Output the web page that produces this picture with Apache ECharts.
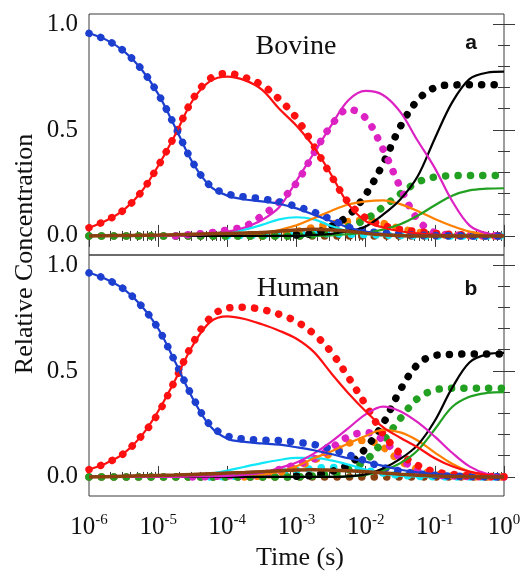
<!DOCTYPE html>
<html>
<head>
<meta charset="utf-8">
<script src="https://cdn.jsdelivr.net/npm/echarts@6/dist/echarts.min.js"></script>
<style>html,body{margin:0;padding:0;background:#fff;}#c{width:528px;height:573px;}</style>
</head>
<body>
<div id="c"></div>
<script>
// time axis: log10 of time in seconds
const logTime = [-6,-5.75,-5.5,-5.25,-5,-4.75,-4.5,-4.25,-4,-3.75,-3.5,-3.25,-3,-2.75,-2.5,-2.25,-2,-1.75,-1.5,-1.25,-1,-0.75,-0.5,-0.25,0];
const xDecades = [-6,-5,-4,-3,-2,-1,0];
const xMinorFactors = [2,3,4,5,6,7,8,9];
const yMajorTicks = [0, 0.5, 1.0];
const yMinorTicks = [0.1,0.2,0.3,0.4,0.6,0.7,0.8,0.9];
const panelNames = ['Bovine','Human'];
const panelLetters = ['a','b'];
const _ = null; // not plotted (hidden under other dots)

// Bovine (panel a)
const bovBlueLine   = [0.956,0.925,0.873,0.79,0.67,0.51,0.345,0.235,0.19,0.172,0.163,0.152,0.13,0.10,0.07,0.04,0.02,0.01,0.004,0.002,0.001,0,0,0,0];
const bovBlueDots   = [0.956,0.925,0.873,0.79,0.67,0.512,0.347,0.237,0.198,0.184,0.175,0.161,0.139,0.113,0.078,0.042,0.022,0.014,0.008,0.004,0.002,0.001,0,0,0];
const bovRedLine    = [0.039,0.073,0.122,0.205,0.33,0.48,0.64,0.73,0.752,0.735,0.69,0.60,0.52,0.42,0.29,0.15,0.07,0.04,0.022,0.012,0.006,0.003,0.001,0,0];
const bovRedDots    = [0.039,0.073,0.122,0.205,0.33,0.48,0.645,0.742,0.767,0.748,0.712,0.645,0.556,0.425,0.285,0.158,0.085,0.05,0.03,0.02,0.012,0.007,0.004,0.002,0.001];
const bovMagLine    = [0,0,0,0,0,0,0.004,0.01,0.02,0.04,0.075,0.135,0.26,0.39,0.52,0.64,0.684,0.665,0.585,0.45,0.32,0.165,0.05,0.012,0.003];
const bovMagDots    = [_,_,_,_,_,0,0.008,0.015,0.028,0.045,0.095,0.16,0.25,0.39,0.52,0.598,0.556,0.41,0.23,0.078,0.015,0.005,0.002,0.001,0];
const bovBlackLine  = [0,0,0,0,0,0,0,0,0,0,0,0,0,0.005,0.01,0.022,0.045,0.1,0.172,0.28,0.46,0.63,0.74,0.77,0.775];
const bovBlackDots  = [_,_,_,_,_,_,_,_,_,_,_,_,0.004,0.012,0.045,0.096,0.195,0.34,0.515,0.64,0.70,0.712,0.713,0.713,0.713];
const bovGreenLine  = [0,0,0,0,0,0,0,0,0,0,0,0,0,0,0.003,0.008,0.015,0.03,0.055,0.095,0.145,0.19,0.215,0.223,0.225];
const bovGreenDots  = [0,0,0,0,0,0,0,0,0,0,0,0,0,0.005,0.02,0.043,0.078,0.136,0.198,0.253,0.278,0.284,0.285,0.285,0.285];
const bovOrangeLine = [0,0,0,0,0,0,0,0,0,0.003,0.01,0.028,0.05,0.083,0.118,0.148,0.163,0.168,0.15,0.118,0.08,0.047,0.02,0.006,0.001];
const bovOrangeDots = [_,_,_,_,_,_,_,_,_,_,0,0.005,0.02,0.04,0.055,0.068,0.075,0.06,0.035,0.018,0.008,0.003,0.001,0,0];
const bovCyanLine   = [0,0,0,0,0,0.001,0.004,0.009,0.016,0.03,0.052,0.078,0.088,0.078,0.047,0.022,0.01,0.003,0.001,0,0,0,0,0,0];
const bovCyanDots   = [_,_,_,_,_,_,_,_,0,0.002,0.004,0.006,0.008,0.01,0.01,0.008,0.006,0.004,0.002,0.001,0,0,0,0,0];
const bovBrownLine  = [0,0.001,0.002,0.003,0.004,0.006,0.008,0.01,0.012,0.014,0.016,0.022,0.028,0.031,0.028,0.022,0.012,0.005,0.002,0,0,0,0,0,0];
const bovBrownDots  = [0,0,0,0,0,0,0,0,0,0,0,0,0,0,0,0,0,0,0,0,0,0,0,0,0];

// Human (panel b)
const humBlueLine   = [0.963,0.933,0.887,0.81,0.70,0.54,0.37,0.24,0.18,0.165,0.158,0.152,0.14,0.126,0.108,0.088,0.072,0.052,0.034,0.022,0.014,0.008,0.004,0.002,0.001];
const humBlueDots   = [0.963,0.933,0.887,0.81,0.70,0.54,0.375,0.245,0.193,0.178,0.174,0.172,0.163,0.153,0.132,0.105,0.075,0.045,0.028,0.015,0.008,0.004,0.002,0.001,0];
const humRedLine    = [0.035,0.065,0.11,0.19,0.31,0.46,0.62,0.73,0.757,0.745,0.72,0.69,0.652,0.59,0.49,0.395,0.31,0.235,0.185,0.14,0.088,0.05,0.025,0.01,0.004];
const humRedDots    = [0.035,0.065,0.11,0.19,0.30,0.46,0.63,0.75,0.797,0.80,0.79,0.767,0.733,0.675,0.59,0.47,0.34,0.205,0.11,0.055,0.025,0.012,0.006,0.003,0.001];
const humMagLine    = [0,0,0,0,0,0,0.002,0.003,0.005,0.01,0.02,0.042,0.068,0.11,0.165,0.23,0.295,0.332,0.31,0.258,0.19,0.114,0.05,0.015,0.004];
const humMagDots    = [_,_,_,_,_,_,0,0.002,0.005,0.008,0.012,0.035,0.058,0.085,0.135,0.19,0.21,0.175,0.09,0.03,0.01,0.005,0.002,0.001,0];
const humBlackLine  = [0,0,0,0,0,0,0,0,0,0,0,0,0,0,0,0.003,0.012,0.04,0.085,0.15,0.265,0.42,0.54,0.578,0.585];
const humBlackDots  = [_,_,_,_,_,_,_,_,_,_,_,_,0.003,0.008,0.025,0.057,0.135,0.25,0.41,0.53,0.573,0.578,0.58,0.58,0.58];
const humGreenLine  = [0,0,0,0,0,0,0,0,0,0,0,0,0,0,0,0.003,0.01,0.03,0.065,0.125,0.225,0.33,0.378,0.396,0.4];
const humGreenDots  = [0,0,0,0,0,0,0,0,0,0,0,0,0,0.005,0.015,0.035,0.077,0.168,0.275,0.37,0.41,0.418,0.418,0.418,0.418];
const humOrangeLine = [0,0,0,0,0,0,0,0,0,0.003,0.01,0.025,0.05,0.088,0.12,0.158,0.193,0.222,0.21,0.172,0.115,0.062,0.025,0.008,0.002];
const humOrangeDots = [_,_,_,_,_,_,_,_,_,0,0.005,0.02,0.045,0.08,0.11,0.158,0.172,0.14,0.075,0.035,0.015,0.006,0.002,0,0];
const humCyanLine   = [0,0,0,0,0,0.003,0.008,0.015,0.03,0.048,0.065,0.08,0.09,0.09,0.078,0.058,0.035,0.015,0.006,0.002,0,0,0,0,0];
const humCyanDots   = [_,_,_,_,_,_,_,0,0.002,0.005,0.01,0.02,0.03,0.04,0.045,0.04,0.03,0.018,0.008,0.003,0.001,0,0,0,0];
const humBrownLine  = [0,0.001,0.003,0.005,0.007,0.009,0.012,0.015,0.018,0.021,0.025,0.029,0.033,0.034,0.032,0.029,0.025,0.019,0.013,0.008,0.004,0.002,0.001,0,0];
const humBrownDots  = [0,0,0,0,0,0,0,0,0,0,0,0,0,0,0,0,0,0,0,0,0,0,0,0,0];

const C = {blue:'#1c3fd0', red:'#ff1010', magenta:'#dd22c4', black:'#000000', green:'#22a022', orange:'#ff8000', cyan:'#10e8f8', brown:'#8b4010'};

const SERIF = '"Liberation Serif","Times New Roman",serif';
const SANS = '"Liberation Sans",Arial,sans-serif';
const FRAME = '#3a3a3a';

const xMinorTicks = [];
xDecades.slice(0, -1).forEach(d => xMinorFactors.forEach(k => xMinorTicks.push(d + Math.log10(k))));

function pairs(ys){ return logTime.map((x, i) => [x, ys[i] === null ? '-' : ys[i]]); }

function xAxisDef(grid, pos, major, labels){
  return {
    type:'value', gridIndex:grid, position:pos, min:-6, max:0,
    axisLine:{show:false},
    splitLine:{show:false},
    axisTick:{show:true, inside:true, length: major ? 11 : 5, customValues: major ? xDecades : xMinorTicks,
      lineStyle:{color:FRAME, width:1}},
    axisLabel: labels ? {
      show:true, customValues:xDecades, margin:17,
      formatter: v => '{b|10}{s|' + Math.round(v) + '}',
      rich:{ b:{fontFamily:SERIF, fontSize:25, color:'#111'}, s:{fontFamily:SERIF, fontSize:15, color:'#111', padding:[0,0,13,0]} }
    } : {show:false}
  };
}
function yAxisDef(grid, pos, major, labels){
  return {
    type:'value', gridIndex:grid, position:pos, min:-0.09, max:1.047,
    axisLine:{show:false},
    splitLine:{show:false},
    axisTick:{show:true, inside:true, length: major ? 11 : 6, customValues: major ? yMajorTicks : yMinorTicks,
      lineStyle:{color:FRAME, width:1}},
    axisLabel: labels ? {
      show:true, customValues:yMajorTicks, margin:11,
      formatter: v => v.toFixed(1),
      fontFamily:SERIF, fontSize:25, color:'#111'
    } : {show:false}
  };
}

function dotSeries(ys, color, xi, yi){
  return {type:'line', xAxisIndex:xi, yAxisIndex:yi, data:pairs(ys), smooth:0.35,
    showSymbol:false, symbol:'none', silent:true, z:2,
    lineStyle:{color, width:7.5, type:[0.1, 12.3], cap:'round'}};
}
function lineSeries(ys, color, xi, yi, w){
  return {type:'line', xAxisIndex:xi, yAxisIndex:yi, data:pairs(ys), smooth:0.35,
    showSymbol:false, symbol:'none', silent:true, z:3,
    lineStyle:{color, width:w || 2.2}};
}

function panelSeries(d, xi, yi){
  return [
    dotSeries(d.brownDots, C.brown, xi, yi),
    dotSeries(d.cyanDots, C.cyan, xi, yi),
    dotSeries(d.orangeDots, C.orange, xi, yi),
    dotSeries(d.greenDots, C.green, xi, yi),
    dotSeries(d.blackDots, C.black, xi, yi),
    dotSeries(d.magDots, C.magenta, xi, yi),
    dotSeries(d.redDots, C.red, xi, yi),
    dotSeries(d.blueDots, C.blue, xi, yi),
    lineSeries(d.cyanLine, C.cyan, xi, yi),
    lineSeries(d.orangeLine, C.orange, xi, yi),
    lineSeries(d.greenLine, C.green, xi, yi),
    lineSeries(d.blackLine, C.black, xi, yi),
    lineSeries(d.magLine, C.magenta, xi, yi),
    lineSeries(d.redLine, C.red, xi, yi),
    lineSeries(d.blueLine, C.blue, xi, yi),
    lineSeries(d.brownLine, C.brown, xi, yi, 3.5)
  ];
}

const bov = {blueLine:bovBlueLine, blueDots:bovBlueDots, redLine:bovRedLine, redDots:bovRedDots, magLine:bovMagLine, magDots:bovMagDots,
  blackLine:bovBlackLine, blackDots:bovBlackDots, greenLine:bovGreenLine, greenDots:bovGreenDots, orangeLine:bovOrangeLine, orangeDots:bovOrangeDots,
  cyanLine:bovCyanLine, cyanDots:bovCyanDots, brownLine:bovBrownLine, brownDots:bovBrownDots};
const hum = {blueLine:humBlueLine, blueDots:humBlueDots, redLine:humRedLine, redDots:humRedDots, magLine:humMagLine, magDots:humMagDots,
  blackLine:humBlackLine, blackDots:humBlackDots, greenLine:humGreenLine, greenDots:humGreenDots, orangeLine:humOrangeLine, orangeDots:humOrangeDots,
  cyanLine:humCyanLine, cyanDots:humCyanDots, brownLine:humBrownLine, brownDots:humBrownDots};

const chart = echarts.init(document.getElementById('c'), null, {renderer:'canvas'});
chart.setOption({
  animation:false,
  backgroundColor:'#ffffff',
  grid:[
    {left:89, top:14, width:415, height:241, show:true, borderColor:FRAME, borderWidth:1, backgroundColor:'transparent'},
    {left:89, top:255, width:415, height:241, show:true, borderColor:FRAME, borderWidth:1, backgroundColor:'transparent'}
  ],
  xAxis:[
    xAxisDef(0,'bottom',true,false),
    xAxisDef(0,'bottom',false,false),
    xAxisDef(0,'top',true,false),
    xAxisDef(0,'top',false,false),
    xAxisDef(1,'bottom',true,true),
    xAxisDef(1,'bottom',false,false)
  ],
  yAxis:[
    yAxisDef(0,'left',true,true),
    yAxisDef(0,'left',false,false),
    yAxisDef(0,'right',true,false),
    yAxisDef(0,'right',false,false),
    yAxisDef(1,'left',true,true),
    yAxisDef(1,'left',false,false),
    yAxisDef(1,'right',true,false),
    yAxisDef(1,'right',false,false)
  ],
  series: panelSeries(bov, 0, 0).concat(panelSeries(hum, 4, 4)),
  graphic:[
    {type:'text', x:25, y:254, rotation:Math.PI/2, style:{text:'Relative Concentration', font:'26px ' + SERIF, fill:'#111', textAlign:'center', textVerticalAlign:'middle'}},
    {type:'text', x:300, y:558, style:{text:'Time (s)', font:'26px ' + SERIF, fill:'#111', textAlign:'center', textVerticalAlign:'middle'}},
    {type:'text', x:296, y:47, style:{text:panelNames[0], font:'28px ' + SERIF, fill:'#111', textAlign:'center', textVerticalAlign:'middle'}},
    {type:'text', x:298, y:289, style:{text:panelNames[1], font:'28px ' + SERIF, fill:'#111', textAlign:'center', textVerticalAlign:'middle'}},
    {type:'text', x:471, y:43, style:{text:panelLetters[0], font:'bold 21px ' + SANS, fill:'#111', textAlign:'center', textVerticalAlign:'middle'}},
    {type:'text', x:471, y:289, style:{text:panelLetters[1], font:'bold 21px ' + SANS, fill:'#111', textAlign:'center', textVerticalAlign:'middle'}}
  ]
});
</script>
</body>
</html>
